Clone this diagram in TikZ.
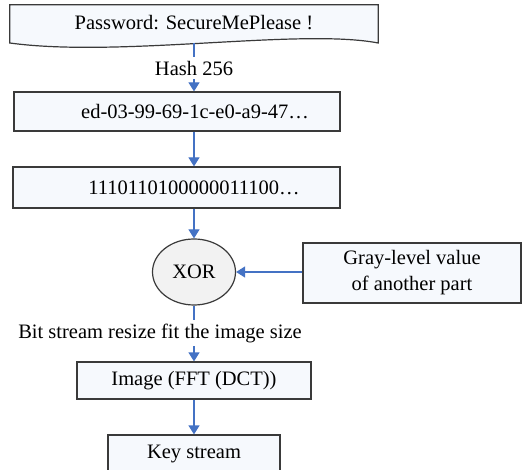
\documentclass[tikz,border=0pt]{standalone}
\usepackage{fontspec}
\setmainfont{Liberation Serif}
\usetikzlibrary{arrows.meta,shapes.geometric}
\definecolor{flowblue}{HTML}{4472C4}
\definecolor{boxfill}{HTML}{F6F9FD}
\definecolor{ovalfill}{HTML}{F2F2F2}
\definecolor{edge}{HTML}{3A3A3A}
\begin{document}
\begin{tikzpicture}[x=1pt,y=-1pt,
  font=\fontsize{20.5}{26}\selectfont,
  stepbox/.style={draw=edge,line width=1.2pt,fill=boxfill,rectangle,inner sep=0pt},
  flow/.style={draw=flowblue,line width=1.2pt,-{Triangle[width=11pt,length=9pt]}},
  plain/.style={draw=flowblue,line width=1.2pt},
  tag/.style={fill=white,inner xsep=2pt,inner ysep=4pt}]
\useasboundingbox (0,0) rectangle (522,470);
\clip (0,0) rectangle (522,470);

% password sheet: flat top, wavy bottom
\node[inner sep=0pt,minimum width=368pt,minimum height=38pt] (pw) at (194,24) {};
\path[draw=edge,line width=1.2pt,fill=boxfill]
  (pw.north west) -- (pw.north east) -- ([yshift=-19pt]pw.east)
  .. controls (300,28) and (120,58) .. ([yshift=-19pt]pw.west) -- cycle;
\node at (194,23) {Password: SecureMePlease !};

% process boxes
\node[stepbox,minimum width=326pt,minimum height=39pt] (hex) at (177,111.5)
  {\hspace*{36pt}ed-03-99-69-1c-e0-a9-47\ldots};
\node[stepbox,minimum width=327pt,minimum height=41pt] (bits) at (176.5,187.5)
  {\hspace*{35pt}1110110100000011100\ldots};
\node[ellipse,draw=edge,line width=1.2pt,fill=ovalfill,minimum width=83pt,minimum height=66pt,inner sep=0pt] (xor) at (194,272) {XOR};
\node[stepbox,minimum width=218pt,minimum height=60pt,align=center] (gray) at (412,273)
  {Gray-level value\\of another part};
\node[stepbox,minimum width=234pt,minimum height=37pt] (img) at (194,380.5) {Image (FFT (DCT))};
\node[stepbox,minimum width=172pt,minimum height=37pt] (key) at (194,453.5) {Key stream};

% connectors
\draw[flow] ([yshift=-19pt]pw.center) -- (pw.center |- hex.north);
\draw[flow] (pw.center |- hex.south) -- (pw.center |- bits.north);
\draw[flow] (pw.center |- bits.south) -- (xor.north);
\draw[flow] (gray.west |- xor.east) -- (xor.east);
\draw[flow] (xor.south) -- (img.north);
\draw[flow] (img.south) -- (key.north);

% labels on the connectors
\node[tag] (hash) at (194,68) {Hash 256};
\node[tag] (resize) at (160,333) {Bit stream resize fit the image size};
\end{tikzpicture}
\end{document}
